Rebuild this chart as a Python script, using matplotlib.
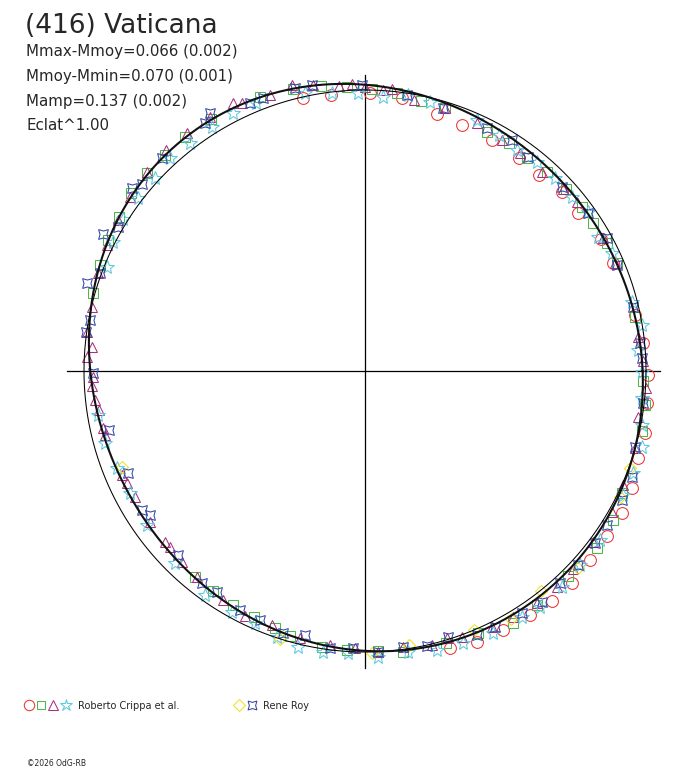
import numpy as np
import matplotlib
matplotlib.use("Agg")
import matplotlib.pyplot as plt
from matplotlib.lines import Line2D

plt.rcParams['font.family'] = ['DejaVu Sans']

# ---------------- data ----------------
TITLE = "(416) Vaticana"
STATS = ["Mmax-Mmoy=0.066 (0.002)", "Mmoy-Mmin=0.070 (0.001)",
         "Mamp=0.137 (0.002)", "Eclat^1.00"]
OBSERVERS = ["Roberto Crippa et al.", "Rene Roy"]
COPYRIGHT = "\u00a92026 OdG-RB"

# Fourier model of the light curve (relative flux, flux^1 as radius), phase in degrees
FIT_MEAN = 0.995
FIT_COS = [0.001, -0.0123, 0.0042]
FIT_SIN = [0.0154, -0.0344, 0.0040]
REF_RADIUS = 1.0

# Roberto Crippa et al. - session 1 (red circles)
RED_PHASE = [102.8, 97.0, 89.0, 82.3, 74.3, 68.5, 61.2, 54.1, 48.4, 42.3, 36.6, 29.2, 23.5, 11.7, 5.8,
             359.2, 353.5, 347.5, 342.3, 336.3, 331.1, 325.7, 320.0, 314.3, 309.1, 304.1, 298.0, 292.5, 287.1]
RED_R = [0.996, 0.990, 0.989, 0.980, 0.950, 0.941, 0.938, 0.935, 0.933, 0.947, 0.944, 0.962, 0.963, 0.981, 0.994,
         1.007, 1.010, 1.021, 1.020, 1.037, 1.045, 1.042, 1.046, 1.054, 1.055, 1.048, 1.044, 1.043, 1.031]

# session 2 (green squares)
GREEN_PHASE = [104.3, 98.8, 93.6, 88.6, 83.4, 78.3, 73.1, 63.0, 57.7, 52.7, 47.6, 42.2, 37.1, 33.0, 27.9, 23.2,
               11.3, 357.9, 353.1, 347.8, 334.6, 329.0, 322.7, 314.7, 306.3, 300.4, 293.3, 286.6, 277.7, 272.7,
               266.3, 261.1, 254.3, 250.7, 245.7, 240.6, 235.4, 230.5, 164.0, 158.2, 153.0, 147.9, 142.7, 137.8,
               132.8, 127.6, 121.4, 111.0]
GREEN_R = [1.036, 1.026, 1.013, 1.004, 0.996, 0.981, 0.978, 0.955, 0.960, 0.952, 0.960, 0.965, 0.968, 0.967, 0.974,
           0.976, 0.980, 0.990, 1.004, 1.009, 1.012, 1.030, 1.038, 1.027, 1.033, 1.040, 1.015, 1.010, 1.009, 0.998,
           0.995, 0.994, 0.980, 0.969, 0.960, 0.956, 0.952, 0.950, 1.007, 1.016, 1.027, 1.033, 1.046, 1.048,
           1.048, 1.051, 1.051, 1.044]

# session 3 (purple triangles)
PURPLE_PHASE = [104.3, 100.3, 95.2, 92.6, 90.0, 86.3, 84.5, 79.8, 73.1, 65.7, 59.3, 54.6, 48.4, 42.6, 38.6,
                29.2, 23.4, 7.1, 2.1, 356.5, 350.4, 344.1, 336.2, 330.3, 323.1, 316.4, 311.6, 306.6, 301.0, 296.4,
                290.0, 287.1, 283.7, 277.8, 272.6, 267.9, 262.7, 256.3, 249.9, 243.9, 238.2, 230.8, 226.2, 222.1,
                220.5, 215.1, 208.7, 205.2, 203.2, 193.8, 192.3, 188.3, 186.1, 183.1, 181.3, 177.1, 175.0, 172.0,
                166.8, 159.9, 154.0, 148.6, 143.5, 137.6, 131.9, 126.8, 121.4, 116.2, 114.7, 109.0]
PURPLE_R = [1.050, 1.034, 1.018, 1.022, 1.011, 1.002, 1.008, 0.980, 0.978, 0.968, 0.956, 0.952, 0.948, 0.957, 0.965,
            0.970, 0.969, 0.979, 0.990, 1.002, 0.985, 0.999, 1.004, 1.012, 1.014, 1.022, 1.028, 1.028, 1.022, 1.017,
            1.008, 0.994, 1.004, 0.991, 1.001, 0.986, 0.983, 0.978, 0.963, 0.971, 0.959, 0.946, 0.941, 0.935,
            0.936, 0.935, 0.933, 0.936, 0.941, 0.953, 0.954, 0.957, 0.966, 0.973, 0.968, 0.991, 0.975, 0.999,
            0.998, 1.012, 1.022, 1.030, 1.041, 1.050, 1.058, 1.058, 1.059, 1.063, 1.049, 1.039]

# session 4 (cyan stars)
CYAN_PHASE = [112.1, 117.1, 122.1, 127.5, 132.5, 137.4, 142.7, 147.9, 152.9, 158.0, 189.4, 195.5, 201.4, 207.4,
              215.2, 225.3, 234.5, 241.1, 246.4, 251.7, 256.4, 261.5, 266.6, 272.6, 278.7, 284.5, 289.8, 296.0,
              302.5, 306.6, 312.4, 317.9, 324.3, 334.3, 339.2, 344.7, 349.0, 354.4, 359.8, 4.4, 9.4, 14.5, 25.5,
              29.9, 35.5, 40.1, 45.5, 50.6, 55.5, 60.4, 66.0, 76.4, 81.1, 86.2, 91.4, 96.8, 102.2]
CYAN_R = [1.030, 1.031, 1.025, 1.023, 1.028, 1.015, 1.016, 1.017, 1.007, 0.990, 0.963, 0.960, 0.948, 0.942,
          0.950, 0.961, 0.980, 0.980, 0.979, 0.997, 1.011, 1.011, 1.005, 1.019, 1.012, 1.025, 1.029, 1.038,
          1.039, 1.046, 1.040, 1.031, 1.030, 1.019, 1.021, 1.022, 1.004, 0.990, 0.986, 0.974, 0.999, 0.981, 0.974,
          0.957, 0.975, 0.962, 0.964, 0.963, 0.955, 0.966, 0.978, 0.985, 0.994, 0.977, 0.990, 0.996, 1.012]

# Rene Roy - session 1 (yellow diamonds)
YELLOW_PHASE = [201.6, 252.4, 271.4, 279.1, 292.8, 300.5, 308.7, 317.2, 333.7, 339.9]
YELLOW_R = [0.930, 1.001, 1.004, 0.988, 1.000, 1.024, 1.003, 1.032, 1.012, 1.004]

# session 2 (blue four-point stars)
BLUE_PHASE = [103.9, 100.5, 90.6, 81.3, 73.5, 63.3, 57.5, 52.7, 43.0, 35.3, 28.8, 22.8, 13.4, 5.8, 2.7,
              353.4, 344.3, 338.3, 333.3, 327.5, 323.2, 317.7, 312.6, 307.5, 303.0, 296.9, 293.0, 287.3, 282.7,
              277.8, 272.6, 267.5, 262.8, 257.2, 252.6, 247.1, 242.4, 236.2, 232.4, 224.5, 213.8, 211.9, 203.3,
              193.0, 180.4, 172.0, 169.5, 162.4, 159.7, 152.4, 149.8, 141.9, 140.0, 133.6, 122.8, 121.0, 113.2, 110.5]
BLUE_R = [1.037, 1.035, 1.018, 0.994, 0.976, 0.968, 0.974, 0.957, 0.959, 0.973, 0.983, 0.973, 0.980, 0.984, 0.987,
          0.996, 0.998, 1.022, 1.023, 1.021, 1.022, 1.025, 1.025, 1.036, 1.027, 1.022, 1.021, 0.992, 1.003,
          0.991, 1.001, 0.987, 0.994, 0.963, 0.977, 0.962, 0.960, 0.947, 0.952, 0.934, 0.921, 0.935, 0.918,
          0.935, 0.968, 1.003, 0.995, 1.038, 1.005, 1.052, 1.017, 1.054, 1.036, 1.047, 1.050, 1.071, 1.038, 1.037]

# ---------------- figure ----------------
W, H = 688, 768
CX, CY, SCALE = 365.0, 371.0, 281.0  # pixel centre and pixels per unit radius

fig = plt.figure(figsize=(W / 100, H / 100), dpi=100)
fig.patch.set_facecolor('white')
ax = fig.add_axes([0, 0, 1, 1])
ax.set_xlim(-CX / SCALE, (W - CX) / SCALE)
ax.set_ylim((CY - H) / SCALE, CY / SCALE)
ax.axis('off')


def polar_xy(phase_deg, r):
    t = np.deg2rad(np.asarray(phase_deg, dtype=float))
    r = np.asarray(r, dtype=float)
    return r * np.cos(t), r * np.sin(t)


# axes cross
ax.plot([-1.06, 1.05], [0, 0], color='black', lw=0.9, zorder=1)
ax.plot([0, 0], [-1.057, 1.053], color='black', lw=0.9, zorder=1)

# reference circle
tt = np.linspace(0, 360, 721)
cx, cy = polar_xy(tt, np.full_like(tt, REF_RADIUS))
ax.plot(cx, cy, color='black', lw=0.75, zorder=5)

# fitted curve
th = np.deg2rad(tt)
rfit = np.full_like(th, FIT_MEAN)
for k, (a, b) in enumerate(zip(FIT_COS, FIT_SIN), start=1):
    rfit = rfit + a * np.cos(k * th) + b * np.sin(k * th)
fx, fy = polar_xy(tt, rfit)
ax.plot(fx, fy, color='#111111', lw=1.5, zorder=6)

STAR4 = (4, 1, 45)
MEW = 0.75
series = [
    (RED_PHASE, RED_R, 'o', 8.5, '#f03232'),
    (GREEN_PHASE, GREEN_R, 's', 6.5, '#4cb848'),
    (PURPLE_PHASE, PURPLE_R, '^', 7.5, '#a8307e'),
    (CYAN_PHASE, CYAN_R, '*', 10.0, '#5ec8e0'),
    (YELLOW_PHASE, YELLOW_R, 'D', 6.5, '#f0e020'),
    (BLUE_PHASE, BLUE_R, STAR4, 10.0, '#3246a6'),
]
for ph, rr, mk, ms, col in series:
    x, y = polar_xy(ph, rr)
    ax.plot(x, y, ls='none', marker=mk, ms=ms, mfc='none', mec=col, mew=MEW, zorder=3)

# ---------------- texts ----------------
def fpos(px, py):
    return px / W, 1 - py / H

TXT = '#262626'
fig.text(*fpos(25, 33), TITLE, fontsize=19, color=TXT, va='baseline', ha='left')
for i, s in enumerate(STATS):
    fig.text(*fpos(26, 56 + 24.8 * i), s, fontsize=10.8, color=TXT, va='baseline', ha='left')

# legend
leg1 = [('o', 7.5, '#f03232', 29), ('s', 6.0, '#4cb848', 41), ('^', 7.0, '#a8307e', 53), ('*', 9.0, '#5ec8e0', 66)]
for mk, ms, col, px in leg1:
    fig.add_artist(Line2D([px / W], [1 - 705 / H], transform=fig.transFigure, ls='none', marker=mk,
                          ms=ms, mfc='none', mec=col, mew=MEW))
fig.text(*fpos(78, 709), OBSERVERS[0], fontsize=7, color=TXT, va='baseline', ha='left')
leg2 = [('D', 6.0, '#f0e020', 239), (STAR4, 9.0, '#3246a6', 252)]
for mk, ms, col, px in leg2:
    fig.add_artist(Line2D([px / W], [1 - 705 / H], transform=fig.transFigure, ls='none', marker=mk,
                          ms=ms, mfc='none', mec=col, mew=MEW))
fig.text(*fpos(263, 709), OBSERVERS[1], fontsize=7, color=TXT, va='baseline', ha='left')

fig.text(*fpos(27, 766), COPYRIGHT, fontsize=5.5, color=TXT, va='baseline', ha='left')

fig.savefig('out.png', dpi=100, facecolor='white')
